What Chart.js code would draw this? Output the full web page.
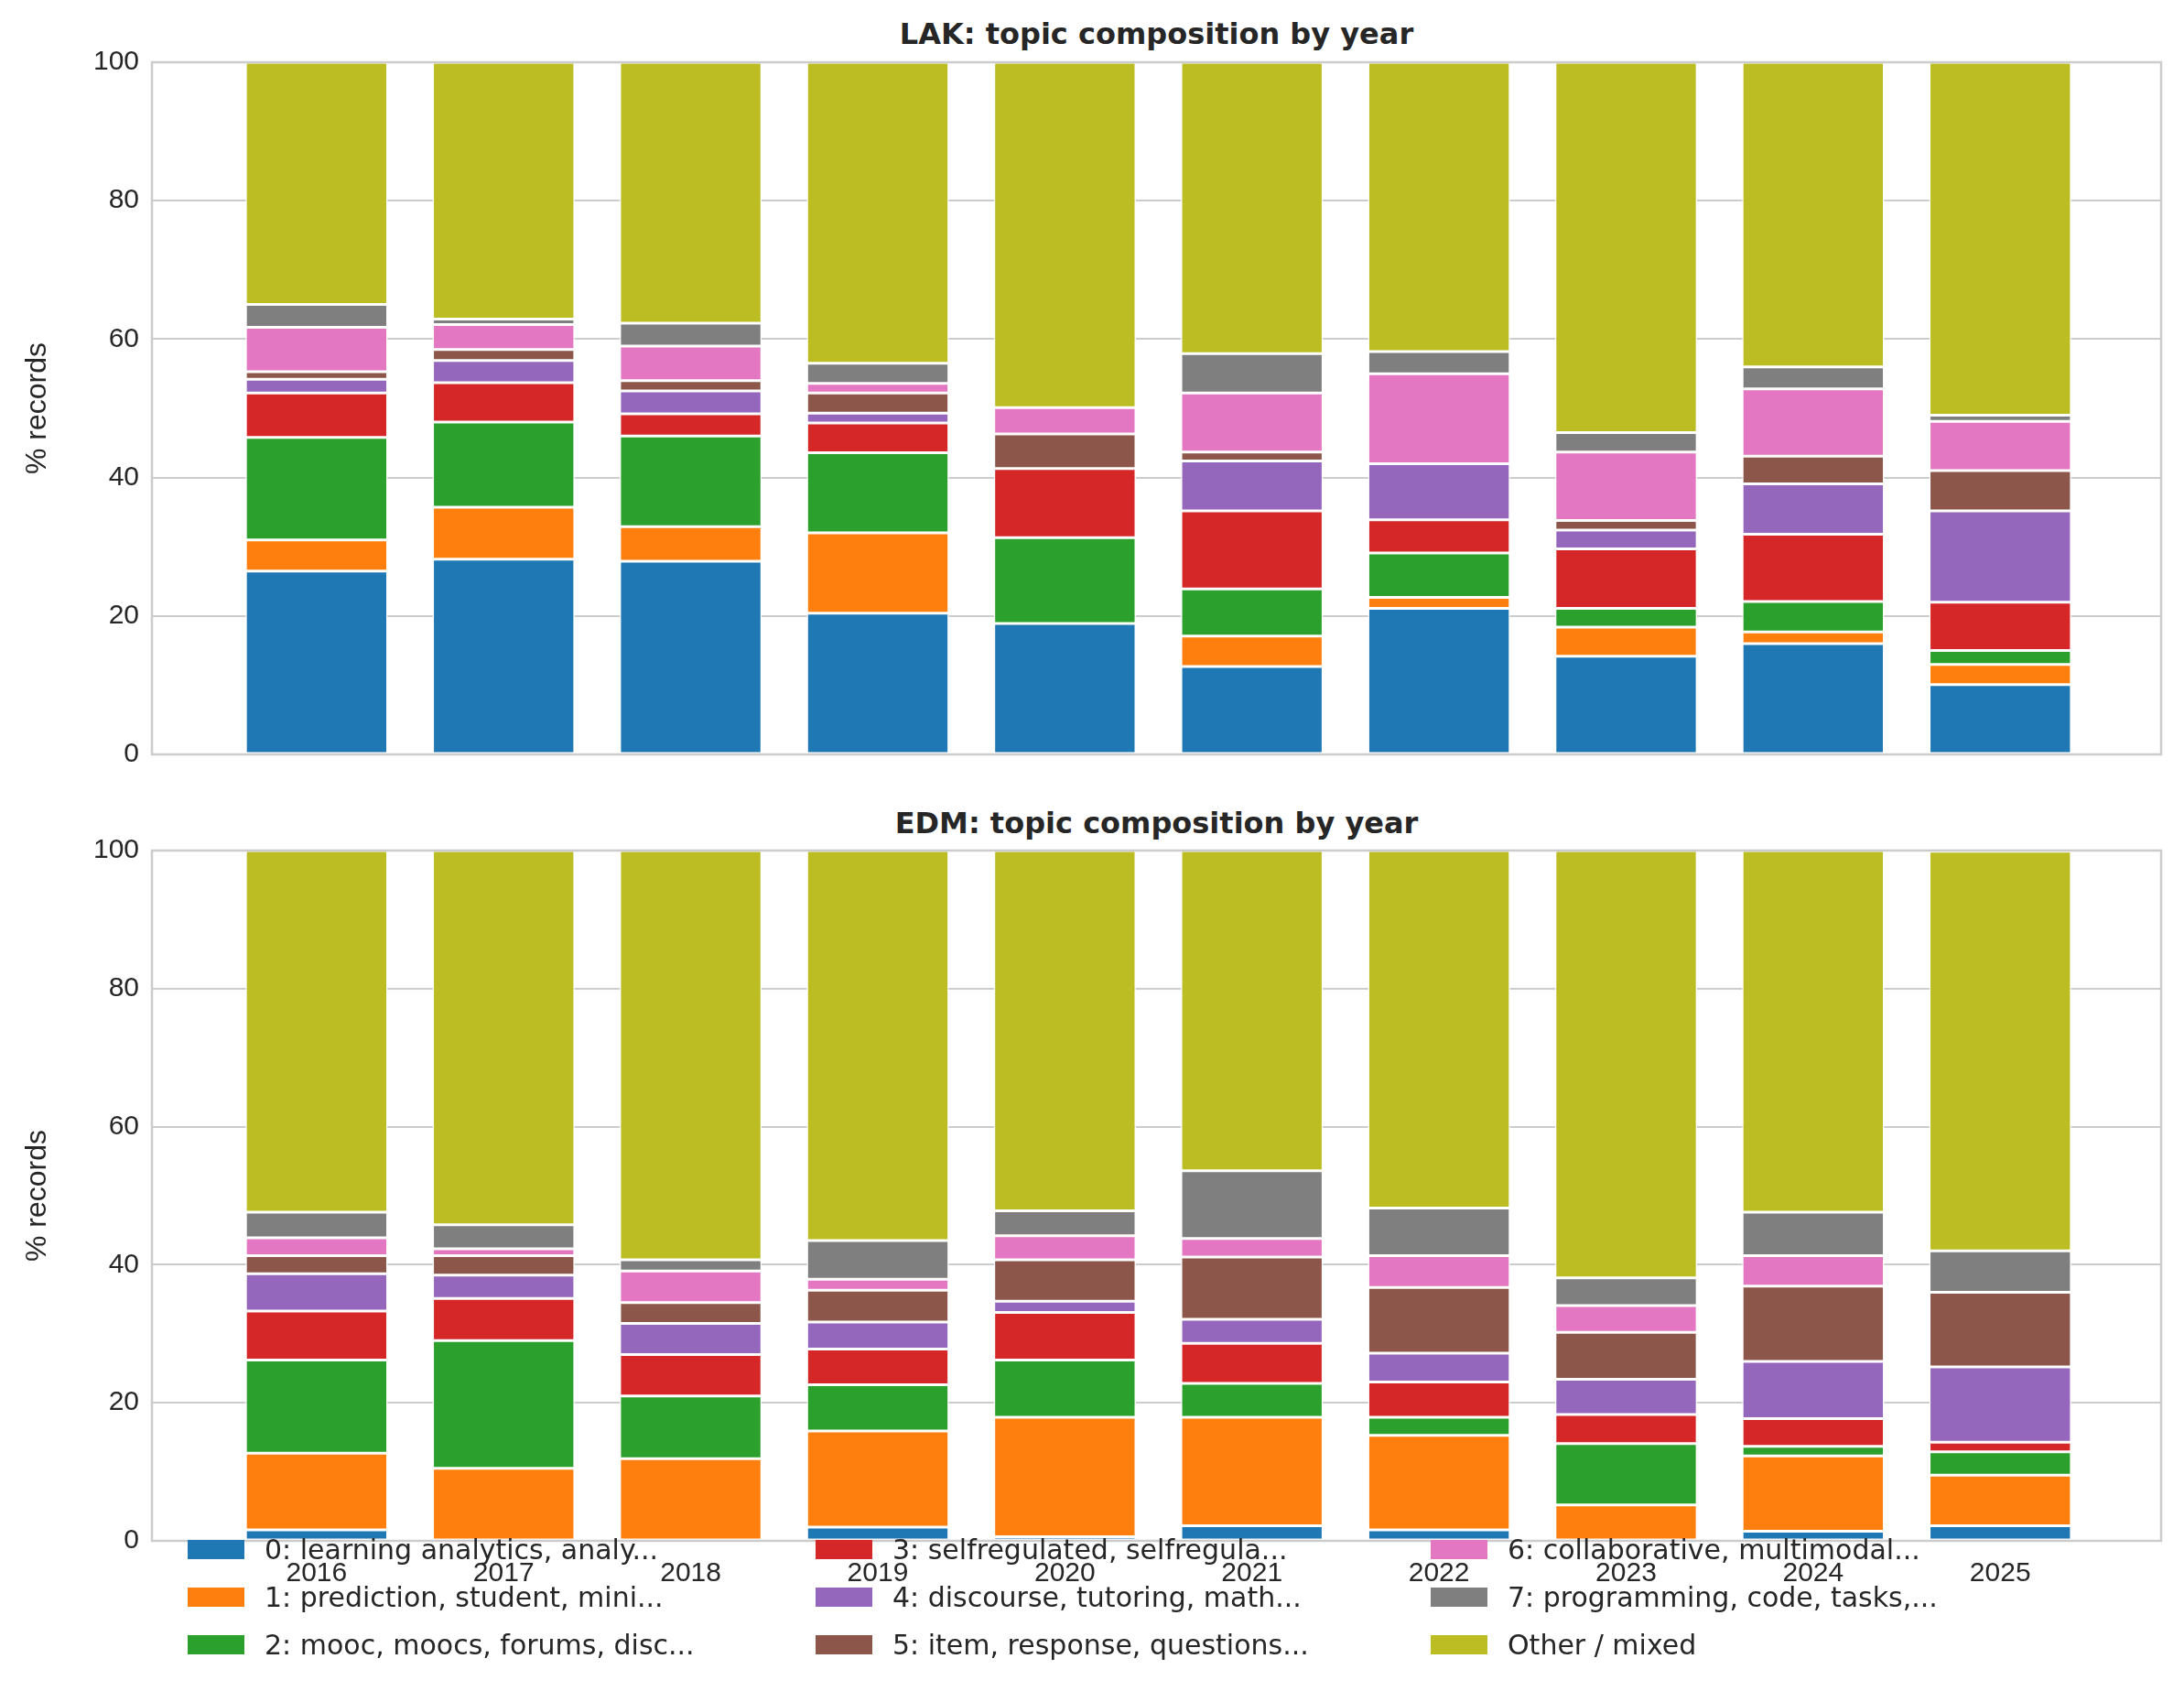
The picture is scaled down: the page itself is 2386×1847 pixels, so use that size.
<!DOCTYPE html>
<html>
<head>
<meta charset="utf-8">
<script src="https://cdn.jsdelivr.net/npm/chart.js@4.4.1/dist/chart.umd.min.js"></script>
<style>
  body { margin: 0; background: #fff; font-family: "DejaVu Sans", sans-serif; }
  #wrap { position: relative; width: 2386px; height: 1847px; }
  .box { position: absolute; left: 0; width: 2386px; }
  .title { position: absolute; left: 166px; width: 2195px; text-align: center; font-weight: bold; font-size: 32px; color: #262626; }
  #legend { position: absolute; left: 205px; top: 1670px; display: grid; grid-template-columns: 686px 672px 700px; row-gap: 8px; font-size: 30px; color: #262626; }
  .item { display: flex; align-items: center; height: 44px; }
  .sw { width: 62px; height: 21px; margin-right: 22px; }
</style>
</head>
<body>
<div id="wrap">
  <div class="title" style="top:18px">LAK: topic composition by year</div>
  <div class="box" style="top:0;height:870px"><canvas id="lak"></canvas></div>
  <div class="title" style="top:880px">EDM: topic composition by year</div>
  <div class="box" style="top:870px;height:977px"><canvas id="edm"></canvas></div>
  <div id="legend"></div>
</div>
<script>
'use strict';
let years = [2016, 2017, 2018, 2019, 2020, 2021, 2022, 2023, 2024, 2025];
let topicNames = ['0: learning analytics, analy...', '1: prediction, student, mini...', '2: mooc, moocs, forums, disc...',
  '3: selfregulated, selfregula...', '4: discourse, tutoring, math...', '5: item, response, questions...',
  '6: collaborative, multimodal...', '7: programming, code, tasks,...', 'Other / mixed'];
let colors = ['#1f77b4', '#ff7f0e', '#2ca02c', '#d62728', '#9467bd', '#8c564b', '#e377c2', '#7f7f7f', '#bcbd22'];
let yTicks = [0, 20, 40, 60, 80, 100];

// LAK, one array per topic, values per year
let lak0 = [26.5, 28.2, 27.9, 20.4, 18.9, 12.7, 21.1, 14.2, 16.0, 10.1];
let lak1 = [4.5, 7.5, 5.0, 11.6, 0, 4.4, 1.6, 4.2, 1.7, 2.9];
let lak2 = [14.8, 12.3, 13.1, 11.6, 12.4, 6.8, 6.4, 2.7, 4.4, 2.0];
let lak3 = [6.4, 5.7, 3.2, 4.3, 10.0, 11.3, 4.8, 8.6, 9.7, 7.0];
let lak4 = [2.0, 3.2, 3.3, 1.4, 0, 7.2, 8.1, 2.7, 7.3, 13.2];
let lak5 = [1.1, 1.6, 1.5, 2.9, 5.0, 1.3, 0, 1.4, 4.0, 5.8];
let lak6 = [6.4, 3.6, 5.0, 1.4, 3.8, 8.5, 13.0, 9.9, 9.7, 7.1];
let lak7 = [3.3, 0.8, 3.3, 2.9, 0, 5.7, 3.2, 2.8, 3.2, 0.9];
let lakOther = [35.0, 37.1, 37.7, 43.5, 49.9, 42.1, 41.8, 53.5, 44.0, 51.0];

// EDM
let edm0 = [1.6, 0, 0, 2.0, 0.6, 2.2, 1.6, 0, 1.4, 2.2];
let edm1 = [11.1, 10.5, 11.9, 13.9, 17.3, 15.7, 13.7, 5.2, 10.9, 7.3];
let edm2 = [13.5, 18.5, 9.1, 6.7, 8.3, 4.9, 2.6, 8.9, 1.4, 3.4];
let edm3 = [7.1, 6.1, 6.0, 5.2, 6.9, 5.8, 5.1, 4.2, 4.0, 1.4];
let edm4 = [5.4, 3.4, 4.5, 3.9, 1.6, 3.5, 4.2, 5.1, 8.3, 10.9];
let edm5 = [2.6, 2.8, 3.0, 4.6, 6.0, 9.0, 9.5, 6.8, 10.9, 10.8];
let edm6 = [2.6, 1.0, 4.6, 1.6, 3.5, 2.7, 4.6, 3.9, 4.4, 0];
let edm7 = [3.7, 3.5, 1.6, 5.6, 3.6, 9.8, 6.9, 4.0, 6.3, 6.0];
let edmOther = [52.4, 54.2, 59.3, 56.5, 52.2, 46.4, 51.8, 61.9, 52.4, 57.9];

let lakSeries = [lak0, lak1, lak2, lak3, lak4, lak5, lak6, lak7, lakOther];
let edmSeries = [edm0, edm1, edm2, edm3, edm4, edm5, edm6, edm7, edmOther];

let frame = {
    id: 'frame',
    afterDraw(chart) {
        let a = chart.chartArea, c = chart.ctx;
        c.save();
        c.strokeStyle = '#cccccc';
        c.lineWidth = 2.5;
        c.strokeRect(a.left, a.top, a.right - a.left, a.bottom - a.top);
        c.restore();
    }
};

function makeChart(id, series, showX, padTop, xHeight) {
    let datasets = [];
    for (let i = 0; i < series.length; i++) {
        datasets.push({
            label: topicNames[i],
            data: years.map((y, j) => ({ x: y, y: series[i][j] })),
            backgroundColor: colors[i],
            borderColor: '#ffffff',
            borderWidth: 1.5,
            borderSkipped: false,
            barPercentage: 0.76,
            categoryPercentage: 1
        });
    }
    return new Chart(document.getElementById(id), {
        type: 'bar',
        data: { datasets: datasets },
        plugins: [frame],
        options: {
            responsive: true,
            maintainAspectRatio: false,
            animation: false,
            layout: { padding: { top: padTop, right: 25, left: 18, bottom: 0 } },
            plugins: { legend: { display: false }, tooltip: { enabled: false } },
            scales: {
                x: {
                    type: 'linear',
                    stacked: true,
                    offset: false,
                    min: 2015.12,
                    max: 2025.86,
                    grid: { display: false, offset: false },
                    border: { display: false },
                    afterBuildTicks: s => { s.ticks = years.map(v => ({ value: v })); },
                    afterFit: s => { s.height = xHeight; },
                    ticks: { display: showX, color: '#262626', font: { size: 30 }, padding: 10,
                        callback: v => String(v) }
                },
                y: {
                    stacked: true,
                    min: 0,
                    max: 100,
                    afterBuildTicks: s => { s.ticks = yTicks.map(v => ({ value: v })); },
                    afterFit: s => { s.width = 148; },
                    grid: { color: '#cccccc', lineWidth: 2, drawTicks: false },
                    border: { display: false },
                    ticks: { color: '#262626', font: { size: 30 }, padding: 14 },
                    title: { display: true, text: '% records', color: '#262626', font: { size: 32 } }
                }
            }
        }
    });
}

makeChart('lak', lakSeries, false, 68, 46);
makeChart('edm', edmSeries, true, 59, 164);

let legendEl = document.getElementById('legend');
let order = [0, 3, 6, 1, 4, 7, 2, 5, 8];
for (let k = 0; k < order.length; k++) {
    let i = order[k];
    let div = document.createElement('div');
    div.className = 'item';
    div.innerHTML = '<span class="sw" style="background:' + colors[i] + '"></span><span>' + topicNames[i] + '</span>';
    legendEl.appendChild(div);
}
</script>
</body>
</html>
